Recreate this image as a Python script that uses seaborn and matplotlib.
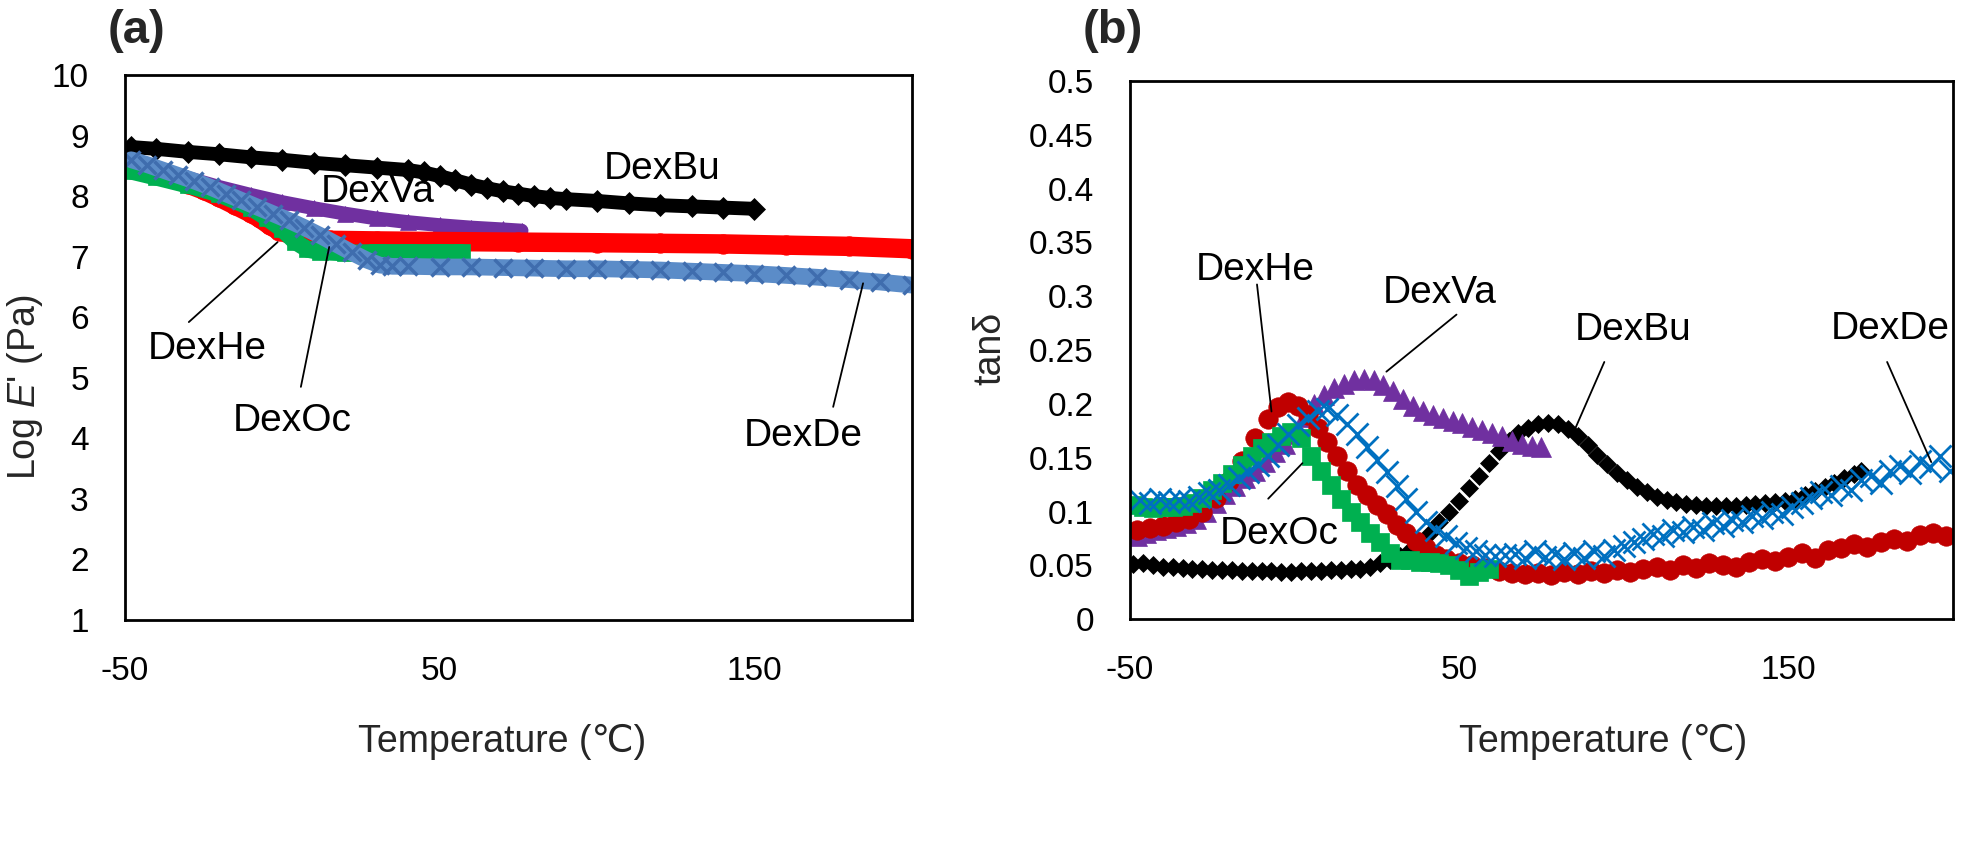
import matplotlib
matplotlib.use('Agg')
import matplotlib.pyplot as plt
import seaborn as sns

# ---------------- panel (a): Log E' vs temperature ----------------
a_bu_t = [-48, -40, -30, -20, -10, 0, 10, 20, 30, 40, 45, 50, 55, 60, 65, 70, 75, 80, 85, 90, 100, 110, 120, 130, 140, 150]
a_bu_v = [8.81, 8.78, 8.73, 8.69, 8.64, 8.60, 8.55, 8.51, 8.47, 8.43, 8.39, 8.33, 8.26, 8.19, 8.13, 8.08, 8.04, 8.00, 7.97, 7.95, 7.92, 7.88, 7.85, 7.83, 7.81, 7.79]

a_va_t = [-48, -40, -30, -20, -10, 0, 10, 20, 30, 40, 50, 60, 70, 76]
a_va_v = [8.55, 8.45, 8.30, 8.15, 8.02, 7.90, 7.80, 7.71, 7.63, 7.57, 7.52, 7.48, 7.45, 7.43]

a_he_t = [-48, -45, -40, -35, -30, -25, -20, -15, -10, -7, -4, -1, 3, 8, 15, 30, 50, 75, 100, 120, 140, 160, 180, 200]
a_he_v = [8.56, 8.50, 8.40, 8.30, 8.20, 8.10, 7.98, 7.85, 7.72, 7.63, 7.52, 7.43, 7.36, 7.30, 7.27, 7.26, 7.25, 7.24, 7.23, 7.22, 7.21, 7.19, 7.17, 7.13]

a_oc_t = [-48, -40, -30, -20, -10, -5, 0, 4, 8, 12, 20, 30, 40, 50, 57]
a_oc_v = [8.41, 8.31, 8.18, 8.03, 7.81, 7.64, 7.45, 7.25, 7.12, 7.08, 7.06, 7.07, 7.07, 7.07, 7.07]

a_de_t = [-48, -43, -38, -33, -28, -23, -18, -13, -8, -3, 2, 7, 12, 17, 22, 27, 31, 35, 40, 50, 60, 70, 80, 90, 100, 110, 120, 130, 140, 150, 160, 170, 180, 190, 200]
a_de_v = [8.60, 8.52, 8.43, 8.34, 8.25, 8.15, 8.04, 7.93, 7.82, 7.71, 7.60, 7.48, 7.35, 7.21, 7.07, 6.94, 6.86, 6.84, 6.84, 6.83, 6.83, 6.82, 6.81, 6.80, 6.80, 6.79, 6.78, 6.76, 6.74, 6.72, 6.69, 6.66, 6.62, 6.58, 6.53]

# ---------------- panel (b): tan delta vs temperature ----------------
b_bu_t = [-49, -46, -43, -40, -37, -34, -31, -28, -25, -22, -19, -16, -13, -10, -7, -4, -1, 2, 5, 8, 11, 14, 17, 20,
          23, 26, 29, 32, 35, 38, 41, 44, 47, 50, 53, 56, 59, 62, 65, 68, 71, 74, 77, 80, 83, 86, 89, 92, 95, 98,
          101, 104, 107, 110, 113, 116, 119, 122, 125, 128, 131, 134, 137, 140, 143, 146, 149, 152, 155, 158,
          161, 164, 167, 170, 172]
b_bu_v = [0.051, 0.052, 0.050, 0.049, 0.049, 0.048, 0.047, 0.047, 0.046, 0.046, 0.046, 0.045, 0.045, 0.045, 0.045,
          0.044, 0.044, 0.045, 0.045, 0.045, 0.046, 0.046, 0.047, 0.047, 0.049, 0.052, 0.055, 0.059, 0.064, 0.072,
          0.080, 0.090, 0.100, 0.110, 0.122, 0.133, 0.145, 0.156, 0.166, 0.173, 0.178, 0.181, 0.182, 0.181, 0.177,
          0.170, 0.162, 0.153, 0.144, 0.136, 0.129, 0.123, 0.118, 0.114, 0.111, 0.109, 0.107, 0.106, 0.105, 0.105,
          0.105, 0.105, 0.106, 0.107, 0.108, 0.109, 0.110, 0.112, 0.115, 0.119, 0.123, 0.127, 0.131, 0.135, 0.138]

b_va_t = [-48, -45, -42, -39, -36, -33, -30, -27, -24, -21, -18, -15, -12, -9, -6, -3, 0, 3, 6, 9, 12, 15, 18, 21,
          24, 27, 30, 33, 36, 39, 42, 45, 48, 51, 54, 57, 60, 63, 66, 69, 72, 75]
b_va_v = [0.077, 0.080, 0.083, 0.085, 0.087, 0.089, 0.093, 0.100, 0.108, 0.116, 0.124, 0.131, 0.138, 0.146, 0.155,
          0.163, 0.172, 0.188, 0.200, 0.208, 0.215, 0.219, 0.222, 0.223, 0.222, 0.218, 0.212, 0.205, 0.198, 0.193,
          0.190, 0.187, 0.184, 0.182, 0.179, 0.176, 0.173, 0.170, 0.166, 0.163, 0.161, 0.160]

b_he_t = [-48, -44, -40, -36, -32, -28, -24, -20, -16, -12, -8, -5, -2, 1, 4, 7, 10, 13, 16, 19, 22, 25, 28, 31,
          34, 37, 40, 43, 46, 50, 54, 58, 62, 66, 70, 74, 78, 82, 86, 90, 94, 98, 102, 106, 110, 114, 118, 122,
          126, 130, 134, 138, 142, 146, 150, 154, 158, 162, 166, 170, 174, 178, 182, 186, 190, 194, 198]
b_he_v = [0.083, 0.085, 0.087, 0.090, 0.093, 0.100, 0.113, 0.128, 0.147, 0.168, 0.186, 0.197, 0.202, 0.198, 0.190,
          0.178, 0.165, 0.152, 0.138, 0.125, 0.115, 0.106, 0.098, 0.088, 0.080, 0.073, 0.066, 0.060, 0.056, 0.052,
          0.050, 0.048, 0.045, 0.043, 0.042, 0.043, 0.041, 0.044, 0.042, 0.045, 0.043, 0.046, 0.044, 0.047, 0.049,
          0.046, 0.050, 0.048, 0.052, 0.050, 0.049, 0.053, 0.056, 0.054, 0.058, 0.062, 0.057, 0.064, 0.066, 0.070,
          0.067, 0.072, 0.075, 0.073, 0.078, 0.080, 0.077]

b_oc_t = [-49, -46, -43, -40, -37, -34, -31, -28, -25, -22, -19, -16, -13, -10, -7, -4, -1, 2, 5, 8, 11, 14, 17,
          20, 23, 26, 29, 32, 35, 38, 41, 44, 47, 50, 53, 56, 59]
b_oc_v = [0.106, 0.104, 0.103, 0.104, 0.104, 0.105, 0.108, 0.113, 0.120, 0.127, 0.135, 0.143, 0.152, 0.159, 0.165,
          0.170, 0.174, 0.168, 0.152, 0.138, 0.125, 0.112, 0.100, 0.090, 0.080, 0.072, 0.062, 0.055, 0.055, 0.053,
          0.053, 0.052, 0.050, 0.046, 0.040, 0.044, 0.047]

b_de_t = [-47, -44, -41, -38, -35, -32, -29, -26, -23, -20, -17, -14, -11, -8, -5, -2, 1, 4, 7, 10, 13, 16, 19, 22,
          25, 28, 31, 34, 37, 40, 43, 46, 49, 52, 55, 58, 61, 64, 67, 70, 73, 76, 79, 82, 85, 88, 91, 94, 97, 100,
          103, 106, 109, 112, 115, 118, 121, 124, 127, 130, 133, 136, 139, 142, 145, 148, 151, 154, 157, 160, 163,
          166, 169, 172, 175, 178, 181, 184, 187, 190, 193, 196, 199]
b_de_v = [0.111, 0.108, 0.112, 0.109, 0.111, 0.110, 0.114, 0.117, 0.120, 0.125, 0.131, 0.137, 0.143, 0.152, 0.162,
          0.172, 0.180, 0.187, 0.193, 0.195, 0.190, 0.181, 0.172, 0.160, 0.148, 0.137, 0.124, 0.112, 0.100, 0.090,
          0.083, 0.077, 0.071, 0.066, 0.063, 0.060, 0.059, 0.060, 0.061, 0.057, 0.063, 0.058, 0.061, 0.056, 0.062,
          0.057, 0.063, 0.059, 0.064, 0.068, 0.072, 0.075, 0.079, 0.077, 0.083, 0.081, 0.086, 0.083, 0.089, 0.087,
          0.092, 0.090, 0.096, 0.094, 0.100, 0.098, 0.104, 0.108, 0.113, 0.118, 0.115, 0.124, 0.120, 0.129, 0.133,
          0.127, 0.138, 0.142, 0.136, 0.147, 0.141, 0.152, 0.138]

x_ticks = [-50, 50, 150]
a_yticks = [1, 2, 3, 4, 5, 6, 7, 8, 9, 10]
b_yticks = [0, 0.05, 0.1, 0.15, 0.2, 0.25, 0.3, 0.35, 0.4, 0.45, 0.5]

sns.set_theme(style='white')
plt.rcParams['font.family'] = ['Liberation Sans', 'DejaVu Sans']
plt.rcParams['mathtext.fontset'] = 'custom'
plt.rcParams['mathtext.rm'] = 'Liberation Sans'
plt.rcParams['mathtext.it'] = 'Liberation Sans:italic'

fig = plt.figure(figsize=(19.61, 8.49), dpi=100)
ax1 = fig.add_axes([0.0637, 0.2697, 0.4013, 0.642])
ax2 = fig.add_axes([0.5762, 0.2706, 0.4197, 0.634])

# (a) thick bands of dense markers
band_style = [
    (a_bu_t, a_bu_v, '#000000', '#000000', 'D', 10, 11),
    (a_va_t, a_va_v, '#7030A0', '#7030A0', '^', 10, 12),
    (a_he_t, a_he_v, '#FF0000', '#FF0000', 'o', 14, 14),
    (a_oc_t, a_oc_v, '#00B050', '#00B050', 's', 12, 11),
    (a_de_t, a_de_v, '#5B8CC8', '#3F6DAE', 'x', 12, 13),
]
for t, v, lc, mc, m, lw, ms in band_style:
    sns.lineplot(x=t, y=v, ax=ax1, color=lc, lw=lw, marker=m, ms=ms, mfc=mc, mec=mc,
                 mew=2.5 if m == 'x' else 0.5, sort=False, estimator=None, solid_capstyle='round')

# (b) marker-only series
mark_style = [
    (b_bu_t, b_bu_v, '#000000', 'D', 9, 0.5),
    (b_va_t, b_va_v, '#7030A0', '^', 14, 0.5),
    (b_he_t, b_he_v, '#C00000', 'o', 14, 0.5),
    (b_oc_t, b_oc_v, '#00B050', 's', 13, 0.5),
    (b_de_t, b_de_v, '#0070C0', 'x', 16, 2.0),
]
for t, v, c, m, ms, mew in mark_style:
    sns.lineplot(x=t, y=v, ax=ax2, color=c, ls='none', marker=m, ms=ms, mfc=c, mec=c,
                 mew=mew, sort=False, estimator=None)

for ax in (ax1, ax2):
    ax.set_xlim(-50, 200)
    ax.set_xticks(x_ticks)
    ax.set_xticklabels([str(x) for x in x_ticks])
    ax.tick_params(direction='in', length=8, width=1.8, labelsize=24, pad=26, colors='black')
    for s in ax.spines.values():
        s.set_visible(True)
        s.set_color('black')
        s.set_linewidth(2)
    ax.set_xlabel('')
    ax.set_ylabel('')
    ax.grid(False)

ax1.set_ylim(1, 10)
ax1.set_yticks(a_yticks)
ax1.set_yticklabels([str(y) for y in a_yticks])
ax2.set_ylim(0, 0.5)
ax2.set_yticks(b_yticks)
ax2.set_yticklabels(['{:g}'.format(y) for y in b_yticks])

# annotations (a)
lab = dict(fontsize=28, ha='center', va='center', color='black')
ax1.text(120.6, 8.44, 'DexBu', **lab)
ax1.text(30.4, 8.06, 'DexVa', **lab)
ax1.text(-24, 5.47, 'DexHe', **lab)
ax1.text(3.1, 4.28, 'DexOc', **lab)
ax1.text(165.4, 4.04, 'DexDe', **lab)
ax1.plot([-29.7, -1.5], [5.92, 7.24], color='black', lw=1.3)
ax1.plot([5.9, 14.9], [4.85, 7.16], color='black', lw=1.3)
ax1.plot([175.0, 184.5], [4.52, 6.56], color='black', lw=1.3)

# annotations (b)
ax2.text(-12, 0.324, 'DexHe', **lab)
ax2.text(44.1, 0.303, 'DexVa', **lab)
ax2.text(102.7, 0.269, 'DexBu', **lab)
ax2.text(180.8, 0.270, 'DexDe', **lab)
ax2.text(-4.8, 0.079, 'DexOc', **lab)
ax2.plot([-11.4, -7], [0.311, 0.193], color='black', lw=1.3)
ax2.plot([49.2, 27.9], [0.283, 0.230], color='black', lw=1.3)
ax2.plot([94.1, 85.1], [0.239, 0.176], color='black', lw=1.3)
ax2.plot([180.0, 193.4], [0.239, 0.146], color='black', lw=1.3)
ax2.plot([-8, 2.4], [0.112, 0.145], color='black', lw=1.3)

# axis titles and panel letters (pixel positions, figure is 1961 x 849)
W, H = 1961.0, 849.0
fig.text(25 / W, 1 - 387 / H, "Log $E$' (Pa)", fontsize=27, rotation=90, ha='center', va='center')
fig.text(990 / W, 1 - 348 / H, 'tanδ', fontsize=27, rotation=90, ha='center', va='center')
fig.text(502 / W, 1 - 742 / H, 'Temperature (℃)', fontsize=27, ha='center', va='center')
fig.text(1603 / W, 1 - 742 / H, 'Temperature (℃)', fontsize=27, ha='center', va='center')
fig.text(137 / W, 1 - 31 / H, '(a)', fontsize=34, fontweight='bold', ha='center', va='center')
fig.text(1113 / W, 1 - 31 / H, '(b)', fontsize=34, fontweight='bold', ha='center', va='center')

fig.savefig('out.png', dpi=100)
